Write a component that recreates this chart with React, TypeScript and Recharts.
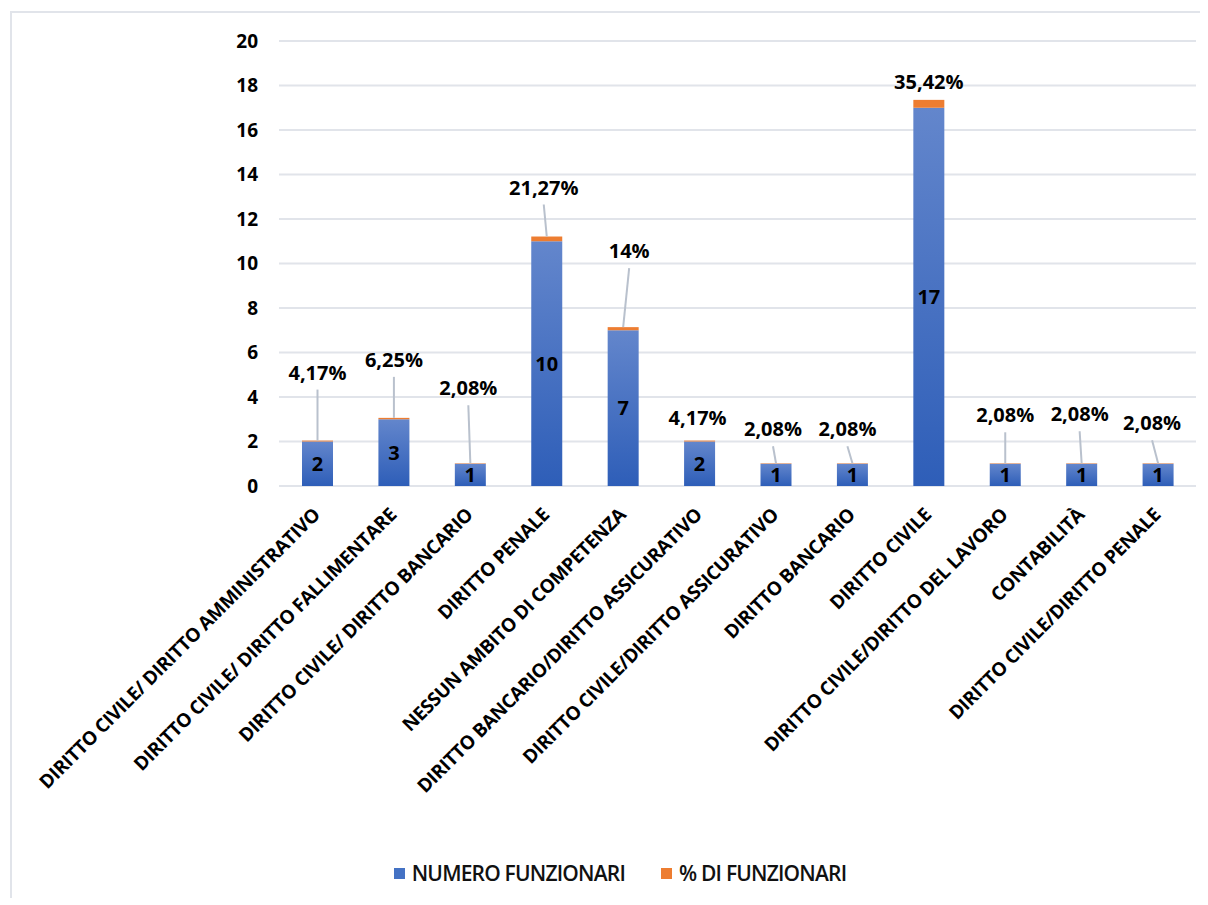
import { BarChart, Bar, XAxis, YAxis, CartesianGrid, Legend, LabelList } from "recharts";

const categories = [
  "DIRITTO CIVILE/ DIRITTO AMMINISTRATIVO",
  "DIRITTO CIVILE/ DIRITTO FALLIMENTARE",
  "DIRITTO CIVILE/ DIRITTO BANCARIO",
  "DIRITTO PENALE",
  "NESSUN AMBITO DI COMPETENZA",
  "DIRITTO BANCARIO/DIRITTO ASSICURATIVO",
  "DIRITTO CIVILE/DIRITTO ASSICURATIVO",
  "DIRITTO BANCARIO",
  "DIRITTO CIVILE",
  "DIRITTO CIVILE/DIRITTO DEL LAVORO",
  "CONTABILITÀ",
  "DIRITTO CIVILE/DIRITTO PENALE",
];
const funzionari = [2, 3, 1, 11, 7, 2, 1, 1, 17, 1, 1, 1];
// the labels printed inside the bars (the penale bar is labelled 10 in the source)
const funzionariLabels = ["2", "3", "1", "10", "7", "2", "1", "1", "17", "1", "1", "1"];
const percentuali = [4.17, 6.25, 2.08, 21.27, 14, 4.17, 2.08, 2.08, 35.42, 2.08, 2.08, 2.08];
const yTicks = [0, 2, 4, 6, 8, 10, 12, 14, 16, 18, 20];
const seriesNames = ["NUMERO FUNZIONARI", "% DI FUNZIONARI"];

// where each % callout sits: [dx from bar centre, lift above bar top] in px
const callouts = [
  [0, 68], [0, 58], [-2, 75], [-3, 49], [6, 76], [-2, 23],
  [-3, 34], [-5, 34], [0, 18], [0, 48], [-2, 49], [-6, 40],
];

const data = categories.map((name, i) => ({
  name,
  numero: funzionari[i],
  perc: percentuali[i] / 100,
}));

const FONT = "'Open Sans', sans-serif";
const BLUE = "#4472c4";
const ORANGE = "#ed7d31";
const seriesColors = [BLUE, ORANGE];

function formatPct(p: number) {
  return Number.isInteger(p) ? `${p}%` : `${p.toFixed(2).replace(".", ",")}%`;
}

function CategoryTick(props: any) {
  const { x, y, payload } = props;
  const px = x + 4;
  const py = y + 22;
  return (
    <text
      x={px}
      y={py}
      transform={`rotate(-45 ${px} ${py})`}
      textAnchor="end"
      fontFamily={FONT}
      fontWeight={700}
      fontSize={19}
      letterSpacing={-0.4}
      fill="#000"
    >
      {payload.value}
    </text>
  );
}

function CountLabel(props: any) {
  const { x, y, width, height, index } = props;
  return (
    <text
      x={x + width / 2}
      y={y + height / 2}
      dy="0.35em"
      textAnchor="middle"
      fontFamily={FONT}
      fontWeight={700}
      fontSize={20}
      fill="#000"
    >
      {funzionariLabels[index]}
    </text>
  );
}

function PctLabel(props: any) {
  const { x, y, width, index } = props;
  const [dx, lift] = callouts[index];
  const cx = x + width / 2;
  const ly = y - lift;
  const lineStart = ly + 17;
  return (
    <g>
      {y - lineStart > 6 && (
        <line x1={cx + dx} y1={lineStart} x2={cx} y2={y} stroke="#b9c1cd" strokeWidth={2} />
      )}
      <text
        x={cx + dx}
        y={ly}
        dy="0.35em"
        textAnchor="middle"
        fontFamily={FONT}
        fontWeight={700}
        fontSize={20}
        fill="#000"
      >
        {formatPct(percentuali[index])}
      </text>
    </g>
  );
}

function LegendContent() {
  return (
    <div style={{ display: "flex", justifyContent: "center", gap: 36, paddingLeft: 36 }}>
      {seriesNames.map((name, i) => (
        <div key={name} style={{ display: "flex", alignItems: "center", gap: 7 }}>
          <span style={{ width: 11, height: 11, background: seriesColors[i], display: "inline-block" }} />
          <span style={{ fontFamily: FONT, fontSize: 21, fontWeight: 600, color: "#111", letterSpacing: -0.8 }}>
            {name}
          </span>
        </div>
      ))}
    </div>
  );
}

export default function App() {
  return (
    <div style={{ position: "relative", width: 1200, height: 890, background: "#fff" }}>
      <div
        style={{
          position: "absolute",
          left: 2,
          top: 3,
          width: 1198,
          height: 887,
          borderTop: "2px solid #e1e4ea",
          borderLeft: "2px solid #e1e4ea",
          boxSizing: "border-box",
        }}
      />
      <BarChart
        width={1200}
        height={890}
        data={data}
        margin={{ top: 33, right: 12, bottom: 11, left: 0 }}
        barSize={31}
      >
        <defs>
          <linearGradient id="blueFill" x1="0" y1="0" x2="0" y2="1">
            <stop offset="0%" stopColor="#6386cc" />
            <stop offset="100%" stopColor="#2e5eb8" />
          </linearGradient>
        </defs>
        <CartesianGrid vertical={false} stroke="#e1e4ea" strokeWidth={2} />
        <XAxis
          dataKey="name"
          interval={0}
          height={373}
          tickLine={false}
          axisLine={false}
          tick={<CategoryTick />}
        />
        <YAxis
          width={271}
          domain={[0, 20]}
          ticks={yTicks}
          tickLine={false}
          axisLine={false}
          tickMargin={15}
          tick={{ fontFamily: FONT, fontWeight: 700, fontSize: 19, fill: "#000" }}
        />
        <Legend verticalAlign="bottom" content={<LegendContent />} />
        <Bar dataKey="numero" name={seriesNames[0]} stackId="a" fill="url(#blueFill)" isAnimationActive={false}>
          <LabelList dataKey="numero" content={<CountLabel />} />
        </Bar>
        <Bar dataKey="perc" name={seriesNames[1]} stackId="a" fill={ORANGE} isAnimationActive={false}>
          <LabelList dataKey="perc" content={<PctLabel />} />
        </Bar>
      </BarChart>
    </div>
  );
}
